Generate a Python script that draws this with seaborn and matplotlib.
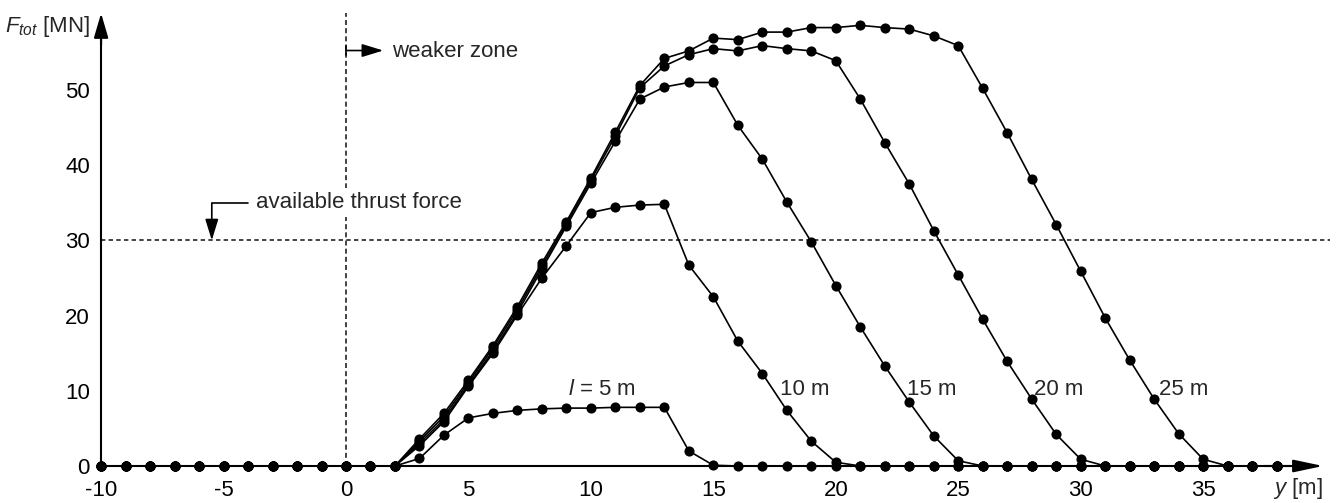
import numpy as np
import pandas as pd
import matplotlib
matplotlib.use("Agg")
import matplotlib.pyplot as plt
import seaborn as sns

# Position of the tunnel face y [m]
y_pos = list(range(-10, 39))

# Total force F_tot [MN] for each weaker-zone length l
F_l5 = [0, 0, 0, 0, 0, 0, 0, 0, 0, 0, 0, 0, 0,
        1.0, 4.1, 6.4, 7.0, 7.4, 7.6, 7.7, 7.7, 7.8, 7.8, 7.8, 2.0, 0.1,
        0, 0, 0, 0, 0, 0, 0, 0, 0, 0, 0, 0, 0, 0, 0, 0, 0, 0, 0, 0, 0, 0, 0]
F_l10 = [0, 0, 0, 0, 0, 0, 0, 0, 0, 0, 0, 0, 0,
         2.7, 5.9, 10.6, 15.0, 20.1, 25.0, 29.3, 33.7, 34.4, 34.7, 34.8,
         26.7, 22.5, 16.6, 12.3, 7.4, 3.3, 0.5,
         0, 0, 0, 0, 0, 0, 0, 0, 0, 0, 0, 0, 0, 0, 0, 0, 0, 0]
F_l15 = [0, 0, 0, 0, 0, 0, 0, 0, 0, 0, 0, 0, 0,
         3.0, 6.2, 10.8, 15.3, 20.4, 26.2, 31.9, 37.6, 43.2, 48.8, 50.4,
         51.0, 51.0, 45.3, 40.8, 35.1, 29.8, 24.0, 18.5, 13.3, 8.5, 4.0, 0.7,
         0, 0, 0, 0, 0, 0, 0, 0, 0, 0, 0, 0, 0]
F_l20 = [0, 0, 0, 0, 0, 0, 0, 0, 0, 0, 0, 0, 0,
         3.3, 6.6, 11.1, 15.7, 20.8, 26.6, 32.2, 38.0, 43.9, 50.3, 53.2,
         54.7, 55.5, 55.2, 55.9, 55.5, 55.2, 53.9, 48.8, 43.0, 37.5, 31.3,
         25.4, 19.5, 13.9, 8.9, 4.2, 0.9,
         0, 0, 0, 0, 0, 0, 0, 0]
F_l25 = [0, 0, 0, 0, 0, 0, 0, 0, 0, 0, 0, 0, 0,
         3.6, 7.0, 11.4, 16.0, 21.2, 27.0, 32.5, 38.3, 44.4, 50.6, 54.2,
         55.2, 56.9, 56.7, 57.7, 57.7, 58.3, 58.3, 58.6, 58.3, 58.1, 57.2,
         55.9, 50.2, 44.3, 38.1, 32.1, 25.9, 19.7, 14.1, 8.9, 4.3, 0.9,
         0, 0, 0]

lengths = ["5 m", "10 m", "15 m", "20 m", "25 m"]
series = [F_l5, F_l10, F_l15, F_l20, F_l25]
thrust = 30

df = pd.concat(
    [pd.DataFrame({"y": y_pos, "F": vals, "l": name}) for name, vals in zip(lengths, series)],
    ignore_index=True,
)

sns.set_theme(style="white")
plt.rcParams["font.family"] = ["Liberation Sans", "DejaVu Sans"]
plt.rcParams["mathtext.fontset"] = "custom"
plt.rcParams["mathtext.rm"] = "Liberation Sans"
plt.rcParams["mathtext.it"] = "Liberation Sans:italic"
plt.rcParams["axes.unicode_minus"] = False
FS = 16

fig = plt.figure(figsize=(13.38, 5.03), dpi=100)
ax = fig.add_axes([0, 0, 1, 1])
ax.set_facecolor("white")
ax.set_xlim(-346 / 24.49, (1338 - 346) / 24.49)
ax.set_ylim(-37 / 7.52, 466 / 7.52)

# reference lines: available thrust force and start of weaker zone
ax.plot([-10, 40.2], [thrust, thrust], color="#222222", lw=1.2, dashes=(2.6, 2.0), zorder=1)
ax.plot([0, 0], [0, 60.2], color="#222222", lw=1.2, dashes=(3.0, 1.9), zorder=1)

for name in lengths:
    sns.lineplot(
        data=df[df["l"] == name], x="y", y="F", color="black", lw=1.2,
        marker="o", markersize=7.3, markeredgewidth=0, legend=False,
        sort=False, ax=ax, zorder=3,
    )
ax.set_xlabel("")
ax.set_ylabel("")

# axes drawn through the origin with arrowheads
for side in ["top", "right"]:
    ax.spines[side].set_visible(False)
ax.spines["left"].set_position(("data", -10))
ax.spines["left"].set_bounds(0, 58)
ax.spines["bottom"].set_position(("data", 0))
ax.spines["bottom"].set_bounds(-10, 38.5)
for side in ["left", "bottom"]:
    ax.spines[side].set_color("black")
    ax.spines[side].set_linewidth(1.5)
    ax.spines[side].set_zorder(2)

ax.set_xticks(range(-10, 36, 5))
ax.set_yticks(range(0, 51, 10))
ax.tick_params(axis="both", direction="out", length=5, width=1.1, color="black",
               labelsize=FS, labelcolor="black", pad=3)
ax.tick_params(axis="x", pad=5)

ax.annotate("", xy=(-10, 60.2), xytext=(-10, 56),
            arrowprops=dict(arrowstyle="-|>,head_length=0.75,head_width=0.22",
                            mutation_scale=20, color="black", lw=1.5,
                            shrinkA=0, shrinkB=0))
ax.annotate("", xy=(39.9, 0), xytext=(37.5, 0),
            arrowprops=dict(arrowstyle="-|>,head_length=0.9,head_width=0.19",
                            mutation_scale=20, color="black", lw=1.5,
                            shrinkA=0, shrinkB=0))

ax.text(-10.45, 57.75, r"$\mathit{F}_{\mathit{tot}}$ [MN]", ha="right", va="baseline", fontsize=FS)
ax.text(39.9, -3.7, r"$\mathit{y}$ [m]", ha="right", va="baseline", fontsize=FS)

# weaker zone marker
ax.plot([0, 0], [54.6, 55.9], color="black", lw=1.2, zorder=4)
ax.annotate("", xy=(1.52, 55.25), xytext=(0, 55.25),
            arrowprops=dict(arrowstyle="-|>,head_length=0.65,head_width=0.2",
                            mutation_scale=20, color="black", lw=1.2,
                            shrinkA=0, shrinkB=0))
ax.text(1.88, 54.4, "weaker zone", ha="left", va="baseline", fontsize=FS)

# available thrust force marker
ax.plot([-4.0, -5.48], [34.93, 34.93], color="black", lw=1.2)
ax.annotate("", xy=(-5.48, thrust), xytext=(-5.48, 34.93),
            arrowprops=dict(arrowstyle="-|>,head_length=0.65,head_width=0.2",
                            mutation_scale=20, color="black", lw=1.2,
                            shrinkA=0, shrinkB=0))
ax.text(-3.67, 34.3, "available thrust force", ha="left", va="baseline", fontsize=FS,
        bbox=dict(facecolor="white", edgecolor="none", pad=3), zorder=2)

# curve labels
ax.text(9.06, 9.5, r"$\mathit{l}$ = 5 m", ha="left", va="baseline", fontsize=FS, zorder=5)
for name, x0 in zip(lengths[1:], [17.71, 22.89, 28.1, 33.2]):
    ax.text(x0, 9.45, name, ha="left", va="baseline", fontsize=FS, zorder=5)

fig.savefig("out.png", dpi=100, facecolor="white")
